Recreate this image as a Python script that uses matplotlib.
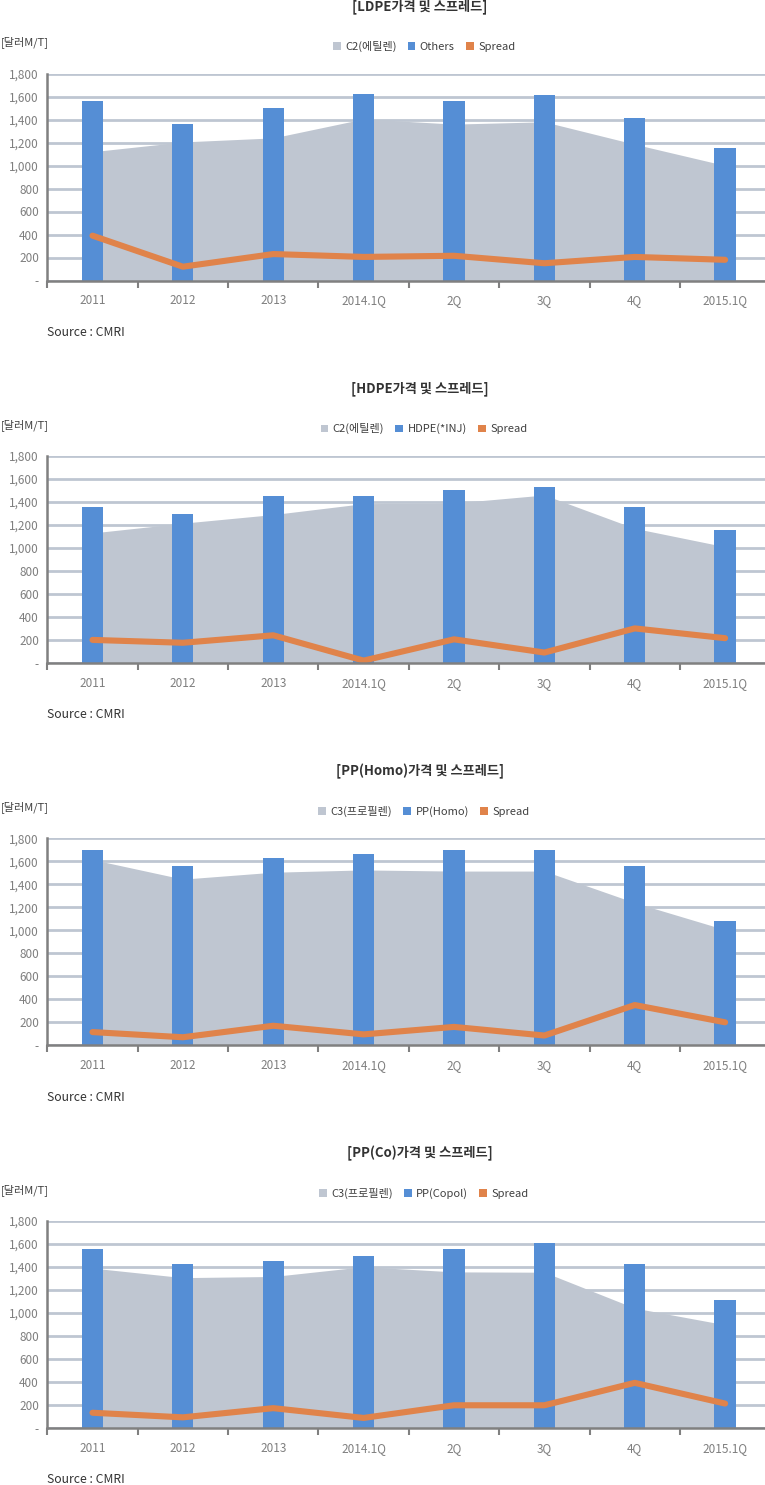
import matplotlib
matplotlib.use('Agg')
import matplotlib.pyplot as plt
from matplotlib.patches import Patch

plt.rcParams['font.family'] = ['Noto Sans CJK KR', 'DejaVu Sans']

categories = ['2011', '2012', '2013', '2014.1Q', '2Q', '3Q', '4Q', '2015.1Q']
yticks = [0, 200, 400, 600, 800, 1000, 1200, 1400, 1600, 1800]
ytick_labels = ['-', '200', '400', '600', '800', '1,000', '1,200', '1,400', '1,600', '1,800']

titles = ['[LDPE가격 및 스프레드]', '[HDPE가격 및 스프레드]',
          '[PP(Homo)가격 및 스프레드]', '[PP(Co)가격 및 스프레드]']
feed_names = ['C2(에틸렌)', 'C2(에틸렌)', 'C3(프로필렌)', 'C3(프로필렌)']
product_names = ['Others', 'HDPE(*INJ)', 'PP(Homo)', 'PP(Copol)']
spread_name = 'Spread'
unit_label = '[달러M/T]'
source_label = 'Source : CMRI'

ldpe_feed = [1120, 1205, 1240, 1405, 1360, 1380, 1185, 1000]
ldpe_product = [1560, 1360, 1500, 1620, 1565, 1610, 1410, 1155]
ldpe_spread = [390, 120, 230, 205, 215, 150, 205, 180]

hdpe_feed = [1130, 1215, 1290, 1385, 1390, 1460, 1170, 1010]
hdpe_product = [1355, 1295, 1450, 1450, 1505, 1530, 1355, 1155]
hdpe_spread = [200, 175, 240, 20, 205, 90, 300, 215]

pph_feed = [1615, 1445, 1505, 1525, 1515, 1515, 1240, 1005]
pph_product = [1695, 1555, 1625, 1660, 1695, 1695, 1555, 1085]
pph_spread = [115, 70, 170, 95, 160, 85, 350, 200]

ppc_feed = [1388, 1305, 1315, 1400, 1355, 1352, 1040, 895]
ppc_product = [1555, 1420, 1450, 1490, 1555, 1605, 1420, 1110]
ppc_spread = [130, 90, 170, 85, 195, 195, 390, 210]

feeds = [ldpe_feed, hdpe_feed, pph_feed, ppc_feed]
products = [ldpe_product, hdpe_product, pph_product, ppc_product]
spreads = [ldpe_spread, hdpe_spread, pph_spread, ppc_spread]

AREA = '#BFC6D1'
BAR = '#558ED5'
LINE = '#E0834A'
GRID = '#BEC6D2'
SPINE = '#808080'
TICKTXT = '#7F7F7F'

W, H = 765, 1485
fig = plt.figure(figsize=(W / 100, H / 100), dpi=100)

x = list(range(len(categories)))
left_px, width_px = 47.3, 723.0
for k in range(4):
    top = 73.5 + 382.4 * k
    base = top + 207.0
    ax = fig.add_axes([left_px / W, 1 - base / H, width_px / W, 207.0 / H])
    ax.set_axisbelow(True)
    ax.fill_between(x, 0, feeds[k], color=AREA, lw=0, zorder=2)
    ax.bar(x, products[k], width=0.235, color=BAR, zorder=3)
    ax.plot(x, spreads[k], color=LINE, lw=4.4, solid_capstyle='round',
            solid_joinstyle='round', zorder=4)
    ax.set_xlim(-0.5, len(categories) - 0.5)
    ax.set_ylim(0, 1800)
    ax.set_yticks(yticks)
    ax.set_yticklabels(ytick_labels)
    ax.yaxis.grid(True, color=GRID, lw=2.0, zorder=0)
    ax.set_xticks(x)
    ax.set_xticklabels(categories)
    ax.set_xticks([i - 0.5 for i in range(len(categories) + 1)], minor=True)
    ax.tick_params(axis='x', which='major', length=0, pad=10, labelsize=8.5,
                   labelcolor=TICKTXT)
    ax.tick_params(axis='x', which='minor', length=5, width=1.5, color=SPINE,
                   direction='out')
    ax.tick_params(axis='y', length=0, pad=6, labelsize=8.5, labelcolor=TICKTXT)
    for s in ['top', 'right']:
        ax.spines[s].set_visible(False)
    for s in ['left', 'bottom']:
        ax.spines[s].set_color(SPINE)
        ax.spines[s].set_linewidth(1.8)
        ax.spines[s].set_zorder(5)

    fig.text(420 / W, 1 - (top - 67) / H, titles[k], ha='center', va='center',
             fontsize=9.5, fontweight='semibold', color='#333333')
    fig.text(0.5 / W, 1 - (top - 31) / H, unit_label, ha='left', va='center',
             fontsize=8, color='#404040')
    fig.text(47 / W, 1 - (base + 52) / H, source_label, ha='left', va='center',
             fontsize=8.8, color='#333333')
    handles = [Patch(facecolor=AREA, edgecolor='none'),
               Patch(facecolor=BAR, edgecolor='none'),
               Patch(facecolor=LINE, edgecolor='none')]
    labels = [feed_names[k], product_names[k], spread_name]
    fig.legend(handles, labels, loc='center',
               bbox_to_anchor=(424 / W, 1 - (top - 27) / H), ncol=3,
               frameon=False, fontsize=8, handlelength=0.7, handleheight=0.7,
               handletextpad=0.4, columnspacing=1.0, borderpad=0,
               labelcolor='#404040')

fig.savefig('out.png', dpi=100)
